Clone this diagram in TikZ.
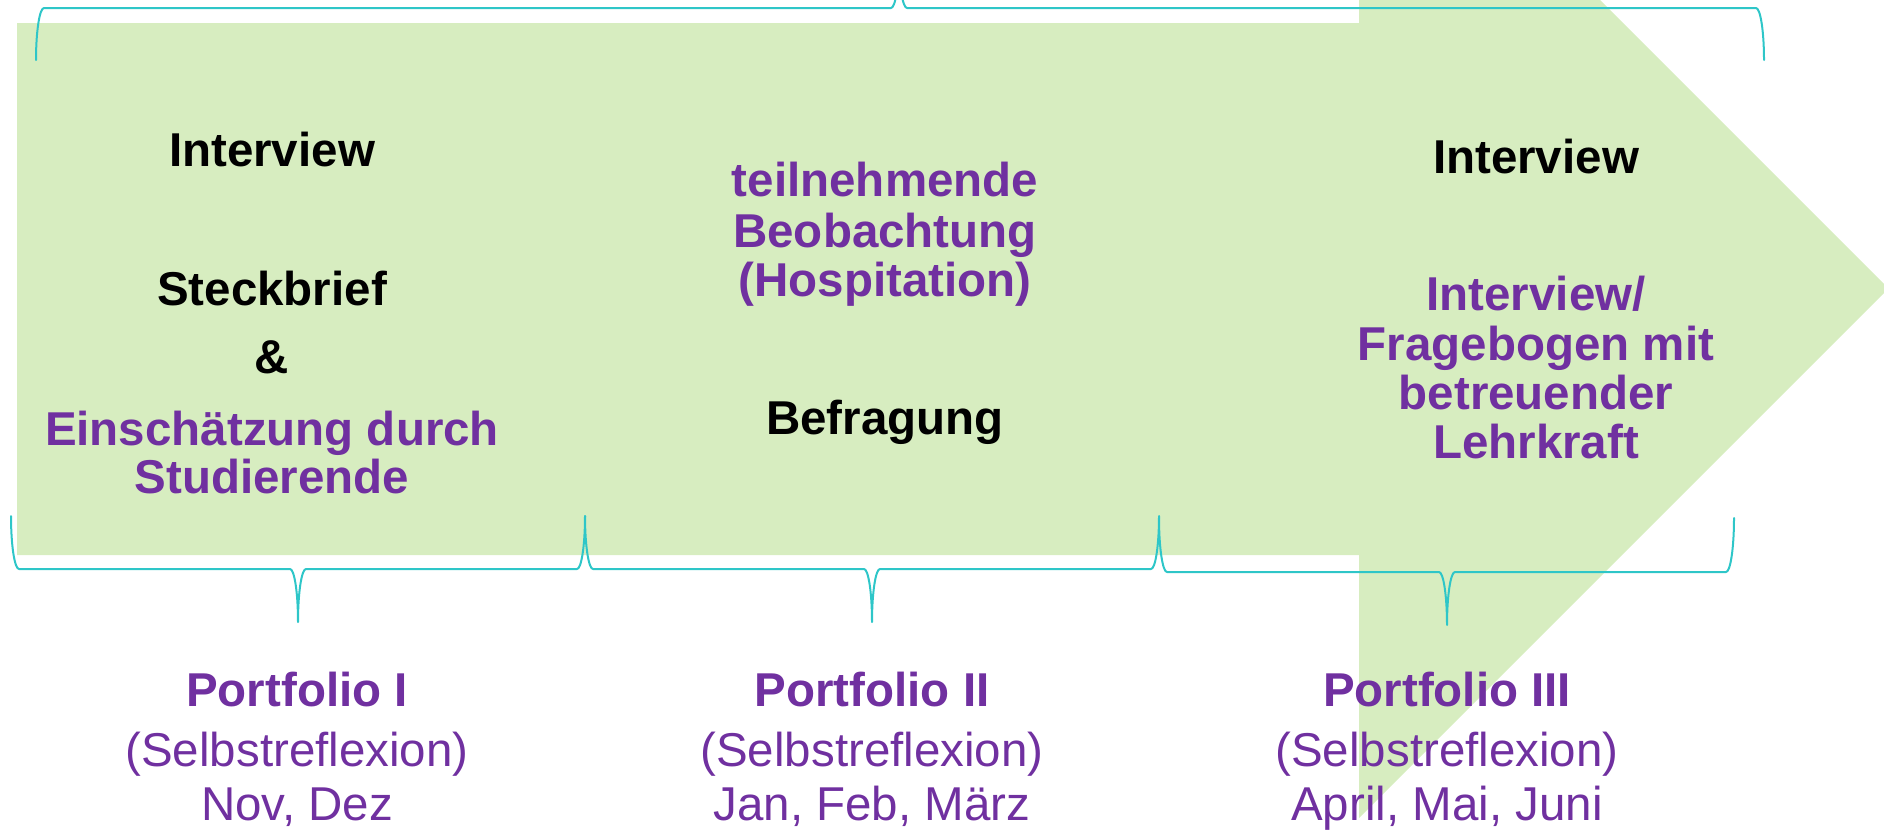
\documentclass[tikz,border=0pt]{standalone}
\usepackage{fontspec}
\setmainfont{Liberation Sans}

\definecolor{arrowgreen}{RGB}{215,237,192}
\definecolor{textpurple}{RGB}{112,48,160}
\definecolor{braceteal}{RGB}{46,198,200}

% curly brace: #1 left end x, #2 right end x, #3 tip x,
% #4 end y, #5 middle-line y, #6 tip y (y grows downwards)
\newcommand{\tealbrace}[6]{%
  \draw[bracestyle] (#1,#4)
    .. controls +(0,{0.5523*(#5-#4)}) and +(-4.4,0) .. ({#1+8},#5)
    -- ({#3-8},#5)
    .. controls +(4.4,0) and +(0,{0.5523*(#5-#6)}) .. (#3,#6)
    .. controls +(0,{0.5523*(#5-#6)}) and +(-4.4,0) .. ({#3+8},#5)
    -- ({#2-8},#5)
    .. controls +(4.4,0) and +(0,{0.5523*(#5-#4)}) .. (#2,#4);%
}

\tikzset{
  lbl/.style={anchor=base, inner sep=0pt, outer sep=0pt},
  bb/.style={lbl, font=\fontsize{47.5}{50}\selectfont\bfseries, text=black},
  bp/.style={lbl, font=\fontsize{47.5}{50}\selectfont\bfseries, text=textpurple},
  rp/.style={lbl, font=\fontsize{47.5}{50}\selectfont, text=textpurple},
  bracestyle/.style={draw=braceteal, line width=2pt, line join=round, line cap=round},
}

\begin{document}
\begin{tikzpicture}[x=1pt,y=-1pt]
\useasboundingbox (0,0) rectangle (1884,836);
\clip (0,0) rectangle (1884,836);

% big block arrow
\fill[arrowgreen] (17,23) -- (1359,23) -- (1359,-241) -- (1888.5,288.5)
  -- (1359,818) -- (1359,555) -- (17,555) -- cycle;

% brace over the whole span
\tealbrace{36}{1764}{899}{60}{8}{-44}

% braces under the three phases
\tealbrace{11}{585}{298}{516}{569}{622}
\tealbrace{585}{1159}{872}{516}{569}{622}
\tealbrace{1159}{1734}{1447}{518}{572}{625}

% phase 1
\node[bb] (iv1) at (272,166.7) {Interview};
\node[bb] (sb)  at (272,305) {Steckbrief};
\node[bb] (amp) at (272,373.3) {\&};
\node[bp] (es1) at (272,445) {Einschätzung durch};
\node[bp] (es2) at (272,493.3) {Studierende};

% phase 2
\node[bp] (tb1) at (885,196.7) {teilnehmende};
\node[bp] (tb2) at (885,247.3) {Beobachtung};
\node[bp] (tb3) at (885,296.7) {(Hospitation)};
\node[bb] (bef) at (885,434) {Befragung};

% phase 3
\node[bb] (iv3) at (1536,173.3) {Interview};
\node[bp] (fb1) at (1536,310.7) {Interview/};
\node[bp] (fb2) at (1536,360.7) {Fragebogen mit};
\node[bp] (fb3) at (1536,409.3) {betreuender};
\node[bp] (fb4) at (1536,458.3) {Lehrkraft};

% portfolios
\node[bp] (pf1) at (297,706.7) {Portfolio I};
\node[rp] (sr1) at (297,766) {(Selbstreflexion)};
\node[rp] (mo1) at (297,820) {Nov, Dez};

\node[bp] (pf2) at (872,706.7) {Portfolio II};
\node[rp] (sr2) at (872,766) {(Selbstreflexion)};
\node[rp] (mo2) at (872,820) {Jan, Feb, März};

\node[bp] (pf3) at (1447,706.7) {Portfolio III};
\node[rp] (sr3) at (1447,766) {(Selbstreflexion)};
\node[rp] (mo3) at (1447,820) {April, Mai, Juni};
\end{tikzpicture}
\end{document}
